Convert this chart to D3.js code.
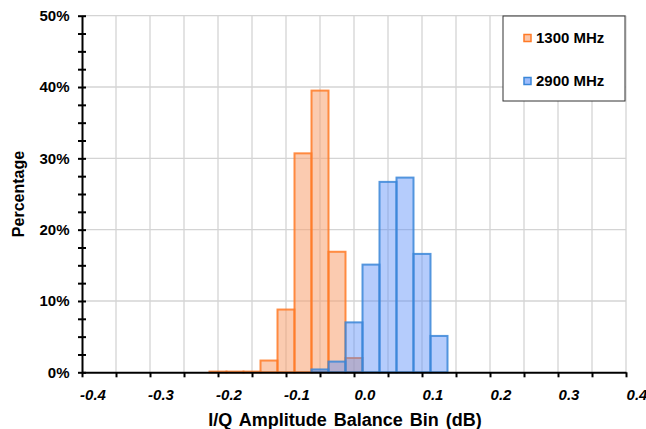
<!DOCTYPE html>
<html>
<head>
<meta charset="utf-8">
<script src="https://cdn.jsdelivr.net/npm/d3@7"></script>
<style>
  body { margin: 0; background: #fff; }
  text { font-family: Arial, "Liberation Sans", sans-serif; font-weight: bold; }
</style>
</head>
<body>
<div id="chart"></div>
<script>
// histogram bins (centre of each bin, dB) and percentages per frequency
const binCenters = [-0.2, -0.175, -0.15, -0.125, -0.1, -0.075, -0.05, -0.025, 0.0, 0.025, 0.05, 0.075, 0.1, 0.125];
const mhz1300 = [0.1, 0.1, 0.1, 1.65, 8.8, 30.7, 39.5, 16.9, 2.0, 0, 0, 0, 0, 0];
const mhz2900 = [0, 0, 0, 0, 0, 0, 0.4, 1.5, 7.0, 15.1, 26.7, 27.3, 16.6, 5.1];
const binWidth = 0.025;
const seriesNames = ["1300 MHz", "2900 MHz"];
const xTicks = ["-0.4", "-0.3", "-0.2", "-0.1", "0.0", "0.1", "0.2", "0.3", "0.4"];
const yTicks = [0, 10, 20, 30, 40, 50];

const width = 646, height = 429;
const margin = {top: 15.7, right: 20, bottom: 56.7, left: 82};

const svg = d3.select("#chart").append("svg")
    .attr("width", width)
    .attr("height", height);

const x = d3.scaleLinear().domain([-0.4, 0.4]).range([margin.left, width - margin.right]);
const y = d3.scaleLinear().domain([0, 50]).range([height - margin.bottom, margin.top]);

// gridlines
svg.append("g")
  .selectAll("line")
  .data(d3.range(-0.35, 0.401, 0.05))
  .join("line")
    .attr("x1", d => x(d)).attr("x2", d => x(d))
    .attr("y1", y(0)).attr("y2", y(50))
    .attr("stroke", "#d4d4d4").attr("stroke-width", 1.3);

svg.append("g")
  .selectAll("line")
  .data(yTicks.slice(1))
  .join("line")
    .attr("x1", x(-0.4)).attr("x2", x(0.4))
    .attr("y1", d => y(d)).attr("y2", d => y(d))
    .attr("stroke", "#d4d4d4").attr("stroke-width", 1.3);

// bars
const series = [
  {vals: mhz1300, fill: "#F8A070", stroke: "#FF7A26", op: 0.55},
  {vals: mhz2900, fill: "#5B8FF9", stroke: "#3A86D8", op: 0.45}
];

series.forEach(s => {
  svg.append("g")
    .selectAll("rect")
    .data(binCenters.map((c, i) => ({c: c, v: s.vals[i]})).filter(d => d.v > 0))
    .join("rect")
      .attr("x", d => x(d.c - binWidth / 2))
      .attr("width", d => x(d.c + binWidth / 2) - x(d.c - binWidth / 2))
      .attr("y", d => y(d.v))
      .attr("height", d => y(0) - y(d.v))
      .attr("fill", s.fill)
      .attr("fill-opacity", s.op)
      .attr("stroke", s.stroke)
      .attr("stroke-opacity", 0.85)
      .attr("stroke-width", 2);
});

// y axis
const yAxis = svg.append("g")
    .attr("transform", `translate(${margin.left},0)`)
    .call(d3.axisLeft(y).tickValues(d3.range(0, 50.1, 2.5)).tickSize(0).tickFormat(""));
yAxis.select(".domain").attr("stroke", "#000").attr("stroke-width", 2);
yAxis.selectAll(".tick line").attr("x1", -4).attr("x2", 4).attr("stroke", "#000").attr("stroke-width", 2);

svg.append("g")
  .selectAll("text")
  .data(yTicks)
  .join("text")
    .attr("x", margin.left - 12.5)
    .attr("y", d => y(d))
    .attr("dy", "0.36em")
    .attr("text-anchor", "end")
    .style("font-size", "15px")
    .text(d => d + "%");

// x axis
const xAxis = svg.append("g")
    .attr("transform", `translate(0,${y(0)})`)
    .call(d3.axisBottom(x).tickValues(d3.range(-0.4, 0.401, 0.05)).tickSize(5).tickSizeOuter(0).tickFormat(""));
xAxis.select(".domain").attr("stroke", "#000").attr("stroke-width", 2);
xAxis.selectAll(".tick line").attr("stroke", "#000").attr("stroke-width", 2);

svg.append("g")
  .selectAll("text")
  .data(xTicks)
  .join("text")
    .attr("x", d => x(+d) + 11)
    .attr("y", y(0) + 27.5)
    .attr("text-anchor", "middle")
    .style("font-size", "15px")
    .style("font-style", "italic")
    .text(d => d);

// axis titles
svg.append("text")
    .attr("x", 345)
    .attr("y", 426)
    .attr("text-anchor", "middle")
    .style("font-size", "18px")
    .style("word-spacing", "2px")
    .text("I/Q Amplitude Balance Bin (dB)");

svg.append("text")
    .attr("transform", `translate(24,${(y(0) + y(50)) / 2}) rotate(-90)`)
    .attr("text-anchor", "middle")
    .style("font-size", "16px")
    .text("Percentage");

// legend
const legend = svg.append("g");
legend.append("rect")
    .attr("x", 503).attr("y", 16)
    .attr("width", 122).attr("height", 85)
    .attr("fill", "#fff").attr("stroke", "#333").attr("stroke-width", 1);

seriesNames.forEach((name, i) => {
  const ly = 38 + i * 43;
  legend.append("rect")
      .attr("x", 524).attr("y", ly - 3.5)
      .attr("width", 7).attr("height", 7)
      .attr("fill", series[i].fill).attr("fill-opacity", 0.6)
      .attr("stroke", series[i].stroke).attr("stroke-width", 1.5);
  legend.append("text")
      .attr("x", 536).attr("y", ly)
      .attr("dy", "0.36em")
      .style("font-size", "15px")
      .text(name);
});
</script>
</body>
</html>
